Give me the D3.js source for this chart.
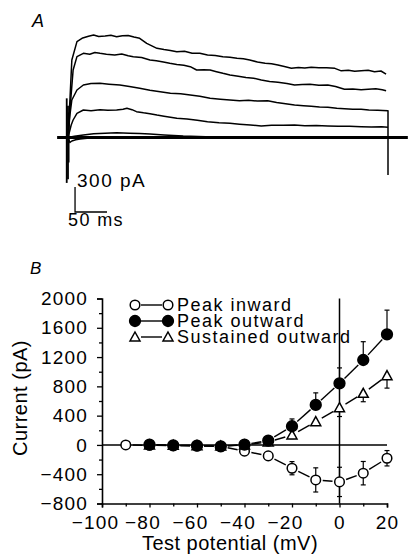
<!DOCTYPE html>
<html>
<head>
<meta charset="utf-8">
<script src="https://cdn.jsdelivr.net/npm/d3@7"></script>
<style>
  body { margin: 0; background: #fff; }
  svg { display: block; }
  text { font-family: "Liberation Sans", Arial, Helvetica, sans-serif; fill: #000; }
</style>
</head>
<body>
<svg id="chart" width="408" height="559"></svg>
<script>
// ---- Panel A: current traces, [time (ms), current (pA)]
const trace1 = [[0, 0], [3, 450], [6, 930], [14, 1150], [23, 1195], [32, 1215], [40, 1230], [48, 1212], [58, 1218], [67, 1226], [76, 1210], [85, 1222], [94, 1224], [103, 1205], [112, 1190], [123, 1130], [131, 1100], [139, 1070], [150, 1055], [160, 1045], [170, 1030], [182, 1036], [194, 1012], [206, 1010], [218, 990], [230, 985], [242, 970], [253, 962], [264, 950], [274, 944], [284, 930], [296, 906], [308, 890], [318, 885], [328, 870], [338, 852], [349, 830], [360, 840], [370, 835], [380, 842], [392, 836], [404, 838], [417, 830], [427, 800], [438, 808], [448, 796], [458, 800], [469, 806], [479, 790], [489, 798], [497, 760]];
const trace2 = [[0, 0], [3, 330], [8, 810], [14, 970], [24, 1010], [34, 1000], [42, 1020], [50, 1010], [60, 1000], [73, 990], [84, 1002], [94, 980], [102, 970], [115, 960], [128, 930], [138, 920], [149, 906], [159, 890], [170, 875], [181, 866], [191, 850], [201, 810], [212, 812], [222, 810], [232, 790], [242, 770], [253, 750], [266, 735], [278, 720], [290, 712], [302, 690], [315, 672], [328, 662], [342, 648], [354, 630], [366, 636], [378, 640], [392, 626], [406, 630], [418, 612], [432, 578], [445, 582], [458, 574], [469, 578], [481, 584], [491, 574], [497, 562]];
const trace3 = [[0, 0], [3, 270], [6, 450], [14, 570], [24, 630], [36, 648], [50, 650], [64, 640], [81, 630], [96, 612], [112, 590], [128, 568], [144, 550], [160, 532], [176, 524], [191, 510], [206, 495], [222, 470], [238, 460], [253, 450], [268, 442], [282, 446], [296, 438], [312, 442], [326, 420], [340, 404], [354, 390], [368, 382], [380, 374], [393, 366], [406, 362], [420, 352], [432, 346], [445, 340], [458, 338], [470, 330], [484, 326], [500, 322], [500, 0]];
const trace4 = [[0, 0], [5, 150], [8, 210], [14, 290], [24, 330], [36, 322], [50, 334], [62, 326], [76, 330], [86, 340], [92, 350], [100, 334], [107, 310], [118, 296], [128, 286], [139, 270], [150, 256], [160, 244], [170, 230], [186, 222], [202, 206], [218, 190], [236, 178], [253, 170], [268, 160], [285, 150], [302, 138], [318, 146], [336, 148], [354, 150], [370, 140], [388, 144], [406, 138], [422, 134], [440, 136], [458, 130], [474, 126], [490, 128], [500, 122]];
const trace5 = [[0, 0], [10, 14], [24, 30], [40, 46], [58, 52], [76, 58], [96, 52], [112, 48], [128, 42], [150, 30], [180, 18], [215, 10], [253, 6], [320, 4], [400, 6], [500, 6]];
const trace6 = [[0, 0], [3, -60], [6, -42], [12, -26], [19, -18], [30, -10], [50, -6], [80, -2], [140, 0]];
const tracesA = [trace1, trace2, trace3, trace4, trace5, trace6];
const baselineA = [[-17, 0], [531, 0]];
const spikeStart = [[-2, 470], [-2, -545], [0, 380], [0, -500], [1, 300], [1, -300]];
const spikeEnd = [[500, 0], [500, -450]];
const scaleBarA = { t: 11, i: -894, dt: 50, di: 300 };

// ---- Panel B: I-V relation
const potentials = [-90, -80, -70, -60, -50, -40, -30, -20, -10, 0, 10, 20];
const peakInward = [0, -5, -10, -15, -20, -85, -150, -318, -478, -505, -386, -182];
const peakInwardErr = [0, 0, 0, 0, 0, 15, 25, 90, 165, 200, 160, 105];
const peakOutwardV = [-80, -70, -60, -50, -40, -30, -20, -10, 0, 10, 20];
const peakOutward = [5, -5, -10, -20, 5, 60, 255, 546, 842, 1160, 1511];
const peakOutwardErr = [0, 0, 0, 0, 0, 20, 100, 165, 210, 250, 330];
const sustainedV = [-80, -70, -60, -50, -40, -30, -20, -10, 0, 10, 20];
const sustained = [0, -5, -10, -15, 0, 40, 136, 318, 508, 705, 946];
const sustainedErr = [0, 0, 0, 0, 0, 10, 50, 45, 120, 115, 170];
const yMajorTicks = [-800, -400, 0, 400, 800, 1200, 1600, 2000];
const yMinorTicks = [-600, -200, 200, 600, 1000, 1400, 1800];
const xMajorTicks = [-100, -80, -60, -40, -20, 0, 20];
const xMinorTicks = [-90, -70, -50, -30, -10, 10];
const legendLabels = ['Peak inward', 'Peak outward', 'Sustained outward'];

const svg = d3.select('#chart');
const minus = (v) => (v < 0 ? '\u2212' + Math.abs(v) : String(v));

// ---------------- Panel A
const tx = d3.scaleLinear().domain([0, 500]).range([68, 388]);
const iy = d3.scaleLinear().domain([0, 300]).range([137.5, 112.5]);
const lineA = d3.line().x((d) => tx(d[0])).y((d) => iy(d[1]));

const gA = svg.append('g');

gA.append('text')
  .attr('x', 32).attr('y', 27)
  .attr('font-size', 18).attr('font-style', 'italic')
  .text('A');

gA.append('path')
  .attr('d', lineA(baselineA))
  .attr('fill', 'none').attr('stroke', '#000').attr('stroke-width', 3);

gA.selectAll('.trace')
  .data(tracesA)
  .enter()
  .append('path')
  .attr('class', 'trace')
  .attr('d', (d) => lineA(d))
  .attr('fill', 'none')
  .attr('stroke', '#000')
  .attr('stroke-width', 1.5)
  .attr('stroke-linejoin', 'round');

// capacitive transients
for (let k = 0; k < spikeStart.length; k += 2) {
  gA.append('path')
    .attr('d', lineA([spikeStart[k], spikeStart[k + 1]]))
    .attr('stroke', '#000').attr('stroke-width', 1.8);
}
gA.append('path')
  .attr('d', lineA(spikeEnd))
  .attr('stroke', '#000').attr('stroke-width', 1.5);

// scale bar
const sb = scaleBarA;
gA.append('path')
  .attr('d', lineA([[sb.t, sb.i + sb.di], [sb.t, sb.i], [sb.t + sb.dt, sb.i]]))
  .attr('fill', 'none').attr('stroke', '#000').attr('stroke-width', 1.3);
gA.append('text')
  .attr('x', tx(sb.t) + 2).attr('y', iy(sb.i + sb.di))
  .attr('font-size', 19).attr('letter-spacing', 1.5)
  .text('300 pA');
gA.append('text')
  .attr('x', tx(0)).attr('y', iy(sb.i) + 14)
  .attr('font-size', 18).attr('letter-spacing', 1.4)
  .text('50 ms');

// ---------------- Panel B
const x = d3.scaleLinear().domain([-100, 20]).range([102, 387]);
const y = d3.scaleLinear().domain([-800, 2000]).range([503.5, 298.5]);

const gB = svg.append('g');

gB.append('text')
  .attr('x', 30).attr('y', 274)
  .attr('font-size', 17).attr('font-style', 'italic')
  .text('B');

// left axis
const yAxis = gB.append('g')
  .attr('transform', `translate(${x(-100)},0)`)
  .call(d3.axisLeft(y).tickValues(yMajorTicks).tickSize(5).tickPadding(9).tickFormat(minus));
yAxis.append('g')
  .call(d3.axisLeft(y).tickValues(yMinorTicks).tickSize(3).tickFormat(''));

// bottom axis
const xAxis = gB.append('g')
  .attr('transform', `translate(0,${y(-800)})`)
  .call(d3.axisBottom(x).tickValues(xMajorTicks).tickSize(4).tickPadding(8).tickFormat(minus));
xAxis.append('g')
  .call(d3.axisBottom(x).tickValues(xMinorTicks).tickSize(3).tickFormat(''));

gB.selectAll('.domain').attr('stroke', '#000').attr('stroke-width', 1.6);
gB.selectAll('.tick line').attr('stroke', '#000').attr('stroke-width', 1.3);
yAxis.selectAll('text')
  .attr('font-size', 19).attr('letter-spacing', 1.2)
  .attr('font-family', '"Liberation Sans", Arial, sans-serif').attr('fill', '#000');
xAxis.selectAll('text')
  .attr('font-size', 19).attr('letter-spacing', 1.2)
  .attr('font-family', '"Liberation Sans", Arial, sans-serif').attr('fill', '#000')
  .attr('dx', (d) => (d < 0 ? -7 : 0));
gB.selectAll('.domain').filter(function () { return this.parentNode !== yAxis.node() && this.parentNode !== xAxis.node(); }).remove();

// zero lines
gB.append('line')
  .attr('x1', x(-100)).attr('x2', x(20))
  .attr('y1', y(0)).attr('y2', y(0))
  .attr('stroke', '#000').attr('stroke-width', 1.5);
gB.append('line')
  .attr('x1', x(0)).attr('x2', x(0))
  .attr('y1', y(2000)).attr('y2', y(-800))
  .attr('stroke', '#000').attr('stroke-width', 1.5);

// axis titles
gB.append('text')
  .attr('transform', `translate(27,${(y(2000) + y(-800)) / 2 - 3}) rotate(-90)`)
  .attr('text-anchor', 'middle')
  .attr('font-size', 20).attr('letter-spacing', 0.5)
  .text('Current (pA)');
gB.append('text')
  .attr('x', 230).attr('y', 550)
  .attr('text-anchor', 'middle')
  .attr('font-size', 20).attr('letter-spacing', 0.5)
  .text('Test potential (mV)');

// series
const series = [
  { v: potentials, i: peakInward, e: peakInwardErr, shape: 'open', dir: 0 },
  { v: sustainedV, i: sustained, e: sustainedErr, shape: 'tri', dir: -1 },
  { v: peakOutwardV, i: peakOutward, e: peakOutwardErr, shape: 'filled', dir: 1 },
];

function marker(g, shape, cx, cy) {
  if (shape === 'tri') {
    g.append('path')
      .attr('d', `M${cx},${cy - 5}L${cx + 5},${cy + 4}L${cx - 5},${cy + 4}Z`)
      .attr('fill', '#fff').attr('stroke', '#000').attr('stroke-width', 1.5);
  } else {
    g.append('circle')
      .attr('cx', cx).attr('cy', cy).attr('r', shape === 'filled' ? 5.4 : 4.8)
      .attr('fill', shape === 'filled' ? '#000' : '#fff')
      .attr('stroke', '#000').attr('stroke-width', 1.5);
  }
}

series.forEach((s) => {
  const pts = s.v.map((v, k) => ({ px: x(v), py: y(s.i[k]), e: s.e[k], val: s.i[k] }));
  const g = gB.append('g');
  // connecting segments with gaps at the markers
  for (let k = 0; k < pts.length - 1; k++) {
    const a = pts[k], b = pts[k + 1];
    const dx = b.px - a.px, dy = b.py - a.py;
    const len = Math.hypot(dx, dy);
    const gap = 7;
    if (len <= gap * 2 + 1) {
      g.append('line')
        .attr('x1', a.px).attr('y1', a.py).attr('x2', b.px).attr('y2', b.py)
        .attr('stroke', '#000').attr('stroke-width', 1.4);
      continue;
    }
    g.append('line')
      .attr('x1', a.px + dx * gap / len).attr('y1', a.py + dy * gap / len)
      .attr('x2', b.px - dx * gap / len).attr('y2', b.py - dy * gap / len)
      .attr('stroke', '#000').attr('stroke-width', 1.4);
  }
  // error bars
  pts.forEach((p, k) => {
    if (!p.e) return;
    const ends = s.dir === 0 ? [1, -1] : [s.dir];
    ends.forEach((d) => {
      const yEnd = y(s.i[k] + d * p.e);
      g.append('line')
        .attr('x1', p.px).attr('x2', p.px).attr('y1', p.py).attr('y2', yEnd)
        .attr('stroke', '#000').attr('stroke-width', 1.2);
      g.append('line')
        .attr('x1', p.px - 2.5).attr('x2', p.px + 2.5).attr('y1', yEnd).attr('y2', yEnd)
        .attr('stroke', '#000').attr('stroke-width', 1.2);
    });
  });
  pts.forEach((p) => marker(g, s.shape, p.px, p.py));
});

// legend
const legendShapes = ['open', 'filled', 'tri'];
const legendY = [305, 321, 337];
const gL = gB.append('g');
legendLabels.forEach((label, k) => {
  const ly = legendY[k];
  gL.append('line')
    .attr('x1', 141).attr('x2', 162).attr('y1', ly).attr('y2', ly)
    .attr('stroke', '#000').attr('stroke-width', 1.4);
  marker(gL, legendShapes[k], 135, ly);
  marker(gL, legendShapes[k], 168, ly);
  gL.append('text')
    .attr('x', 177).attr('y', ly + 6)
    .attr('font-size', 18).attr('letter-spacing', 1.5)
    .text(label);
});
</script>
</body>
</html>
